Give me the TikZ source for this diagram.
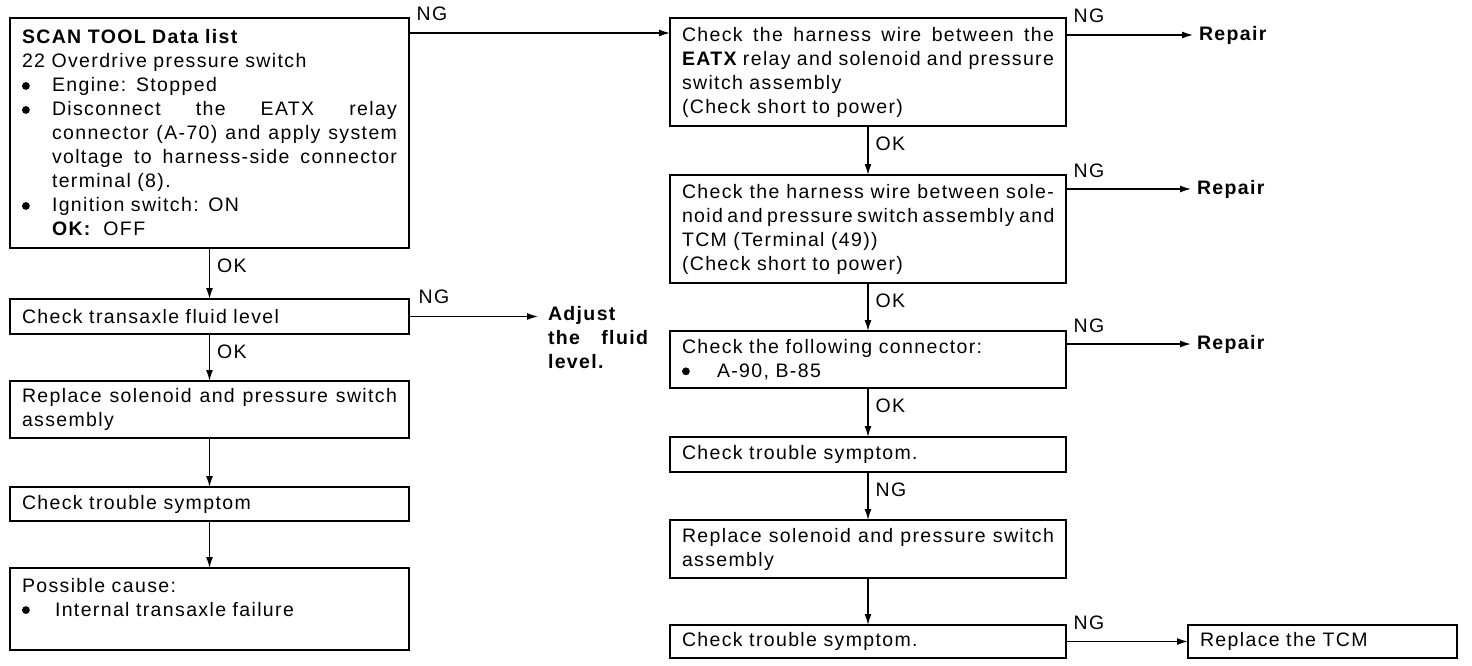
\documentclass[tikz,border=0pt]{standalone}
\usepackage{fontspec}
\setmainfont{Liberation Sans}[LetterSpace=7]
\usetikzlibrary{arrows.meta}
\newcommand\bul[1][30pt]{\makebox[#1][l]{\tikz[baseline=0pt]\fill (4pt,6pt) circle (3.9pt);}}
\newcommand\just[2]{\makebox[#1][s]{\spaceskip=0pt\xspaceskip=0pt #2}}
\begin{document}
\begin{tikzpicture}[x=1pt,y=-1pt,
  every node/.style={font=\fontsize{19.5}{24}\selectfont},
  box/.style={draw, line width=1.6pt, inner xsep=12pt, inner ysep=0pt, outer sep=0pt,
    anchor=north west, align=left},
  lbox/.style={box, text width=375pt},
  rbox/.style={box, text width=372pt},
  plain/.style={inner xsep=6pt, inner ysep=2pt, outer sep=0pt, align=left},
  arr/.style={line width=1.4pt, -{Latex[length=11pt,width=7pt]}},
  ng/.style={anchor=base west, inner sep=0pt, xshift=7pt, yshift=12pt},
  ok/.style={anchor=north west, inner sep=0pt, xshift=7pt, yshift=-10pt}]
\useasboundingbox (0,0) rectangle (1472,666);

% left column
\node[lbox, minimum height=230pt] (L1) at (10,18) {%
{\bfseries SCAN TOOL Data list}\\
22 Overdrive pressure switch\\
\bul Engine: Stopped\\
\bul\just{345pt}{Disconnect the EATX relay}\\
\hspace*{30pt}\just{345pt}{connector (A-70) and apply system}\\
\hspace*{30pt}\just{345pt}{voltage to harness-side connector}\\
\hspace*{30pt}terminal (8).\\
\bul Ignition switch: ON\\
\hspace*{30pt}{\bfseries OK:}\ \ OFF};
\node[lbox, minimum height=35pt] (L2) at (10,299) {Check transaxle fluid level};
\node[lbox, minimum height=57pt] (L3) at (10,381) {%
\just{375pt}{Replace solenoid and pressure switch}\\assembly};
\node[lbox, minimum height=34pt] (L4) at (10,487) {Check trouble symptom};
\node[lbox, minimum height=82pt] (L5) at (10,568) {%
Possible cause:\\\bul[33pt]Internal transaxle failure\\\mbox{}};
\node[plain, anchor=north west, inner xsep=10pt, text width=100pt] (adj) at (538,304)
  {\bfseries Adjust\\\just{100pt}{the fluid}\\level.};

% right column
\node[rbox, minimum height=108pt] (R1) at (670,18) {%
\just{372pt}{Check the harness wire between the}\\
\just{372pt}{{\bfseries EATX} relay and solenoid and pressure}\\
switch assembly\\
(Check short to power)};
\node[rbox, minimum height=108pt] (R2) at (670,175) {%
\just{372pt}{Check the harness wire between sole-}\\
\just{372pt}{noid and pressure switch assembly and}\\
TCM (Terminal (49))\\
(Check short to power)};
\node[rbox, minimum height=57pt] (R3) at (670,331) {%
Check the following connector:\\\bul[35pt]A-90, B-85};
\node[rbox, minimum height=35pt] (R4) at (670,437) {Check trouble symptom.};
\node[rbox, minimum height=58pt] (R5) at (670,520) {%
\just{372pt}{Replace solenoid and pressure switch}\\assembly};
\node[rbox, minimum height=33pt] (R6) at (670,625) {Check trouble symptom.};
\node[box, text width=245pt, minimum height=33pt] (R7) at (1188,625) {Replace the TCM};

\node[plain, anchor=west] (rep1) at (1193,35) {\bfseries Repair};
\node[plain, anchor=west] (rep2) at (1191,189) {\bfseries Repair};
\node[plain, anchor=west] (rep3) at (1191,344) {\bfseries Repair};

% connectors
\draw[arr] ([yshift=-15pt]L1.north east) -- ([yshift=-15pt]R1.north west) node[ng,pos=0] {NG};
\draw[arr] (L1.south) -- (L2.north) node[ok,pos=0] {OK};
\draw[arr] (L2.east) -- (L2.east -| adj.west) node[ng,pos=0,xshift=2pt,yshift=1pt] {NG};
\draw[arr] (L2.south) -- (L3.north) node[ok,pos=0] {OK};
\draw[arr] (L3.south) -- (L4.north);
\draw[arr] (L4.south) -- (L5.north);

\draw[arr] (R1.north east |- rep1.west) -- (rep1.west) node[ng,pos=0] {NG};
\draw[arr] (R1.south) -- (R2.north) node[ok,pos=0] {OK};
\draw[arr] (R2.north east |- rep2.west) -- (rep2.west) node[ng,pos=0] {NG};
\draw[arr] (R2.south) -- (R3.north) node[ok,pos=0] {OK};
\draw[arr] (R3.north east |- rep3.west) -- (rep3.west) node[ng,pos=0] {NG};
\draw[arr] (R3.south) -- (R4.north) node[ok,pos=0] {OK};
\draw[arr] (R4.south) -- (R5.north) node[ok,pos=0] {NG};
\draw[arr] (R5.south) -- (R6.north);
\draw[arr] (R6.east) -- (R7.west) node[ng,pos=0] {NG};
\end{tikzpicture}
\end{document}
